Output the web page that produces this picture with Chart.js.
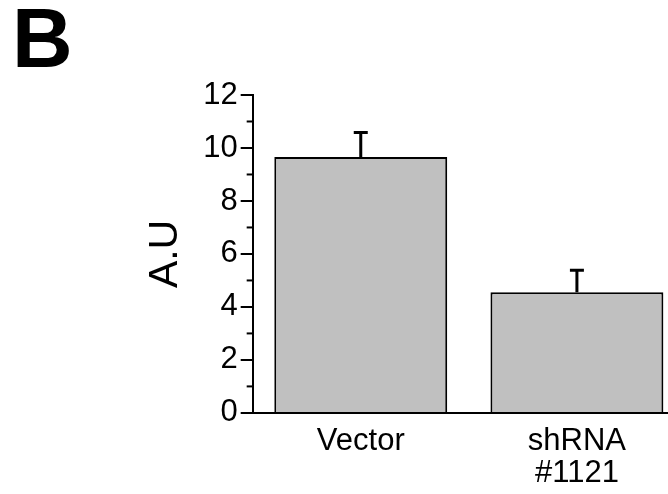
<!DOCTYPE html>
<html>
<head>
<meta charset="utf-8">
<script src="https://cdn.jsdelivr.net/npm/chart.js@4/dist/chart.umd.min.js"></script>
<style>
  html, body { margin: 0; padding: 0; background: #fff; overflow: hidden; }
  #wrap { position: relative; width: 700px; height: 494px; }
  #panel { position: absolute; left: 12px; top: -10px; font: bold 84px "Liberation Sans", Arial, sans-serif; color: #000; }
</style>
</head>
<body>
<div id="wrap">
  <canvas id="chart" width="700" height="494"></canvas>
  <div id="panel">B</div>
</div>
<script>
// dados
const categories = ['Vector', ['shRNA', '#1121']];
const values = [9.66, 4.55];
const errors = [0.92, 0.83];
const yTicks = [0, 2, 4, 6, 8, 10, 12];

const font = "'Liberation Sans', Arial, sans-serif";

// barras de erro (só a parte de cima) e ticks menores do eixo y
const extras = {
    id: 'extras',
    afterDatasetsDraw(chart) {
        const ctx = chart.ctx;
        const y = chart.scales.y;
        const meta = chart.getDatasetMeta(0);
        ctx.save();
        ctx.strokeStyle = '#000';
        ctx.lineWidth = 3;
        meta.data.forEach((bar, i) => {
            const top = y.getPixelForValue(values[i] + errors[i]);
            ctx.beginPath();
            ctx.moveTo(bar.x, bar.y);
            ctx.lineTo(bar.x, top);
            ctx.moveTo(bar.x - 7, top);
            ctx.lineTo(bar.x + 7, top);
            ctx.stroke();
        });
        // ticks menores nos valores ímpares
        ctx.lineWidth = 2;
        const left = chart.chartArea.left;
        for (let v = 1; v < 12; v += 2) {
            const py = y.getPixelForValue(v);
            ctx.beginPath();
            ctx.moveTo(left - 6, py);
            ctx.lineTo(left, py);
            ctx.stroke();
        }
        ctx.restore();
    }
};

new Chart(document.getElementById('chart'), {
    type: 'bar',
    data: {
        labels: categories,
        datasets: [{
            data: values,
            backgroundColor: '#c0c0c0',
            borderColor: '#000',
            borderWidth: 2,
            borderSkipped: 'bottom',
            barPercentage: 0.8,
            categoryPercentage: 1.0
        }]
    },
    options: {
        responsive: false,
        animation: false,
        layout: { padding: { top: 95, right: 15, bottom: 0, left: 131 } },
        plugins: { legend: { display: false }, tooltip: { enabled: false } },
        scales: {
            x: {
                grid: { display: false },
                border: { color: '#000', width: 2 },
                ticks: { color: '#000', font: { family: font, size: 31, lineHeight: 1.05 }, padding: 4, maxRotation: 0 }
            },
            y: {
                min: 0,
                max: 12,
                afterBuildTicks: (axis) => { axis.ticks = yTicks.map(v => ({ value: v })); },
                grid: { drawOnChartArea: false, tickLength: 12, color: '#000', lineWidth: 2 },
                border: { color: '#000', width: 2 },
                ticks: { color: '#000', font: { family: font, size: 31 }, padding: 3 },
                title: { display: true, text: 'A.U', color: '#000', font: { family: font, size: 41 }, padding: 10 }
            }
        }
    },
    plugins: [extras]
});
</script>
</body>
</html>
